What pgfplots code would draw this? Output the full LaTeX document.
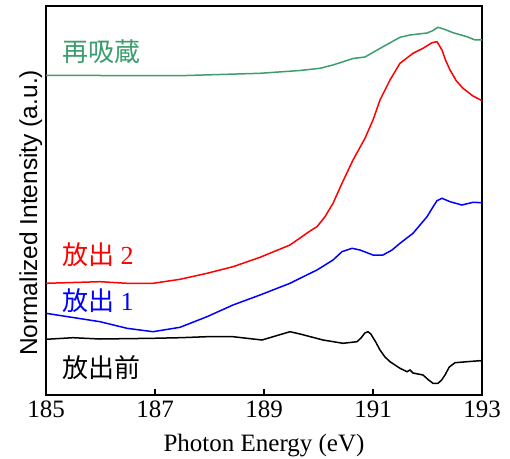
\documentclass[border=0pt]{standalone}
\usepackage{fontspec}
\setmainfont{Liberation Serif}
\newfontfamily\cjk{Noto Sans CJK JP}
\newfontfamily\arial{Liberation Sans}
\usepackage{pgfplots}
\pgfplotsset{compat=1.18}
\definecolor{mygreen}{RGB}{60,158,110}
\definecolor{myred}{RGB}{255,0,0}
\definecolor{myblue}{RGB}{0,0,255}
\begin{document}
\begin{tikzpicture}
\begin{axis}[
  scale only axis, width=436pt, height=389pt,
  xmin=185, xmax=193, ymin=0, ymax=389,
  xtick={185,187,189,191,193}, ytick=\empty,
  xtick pos=bottom, tick align=inside, major tick length=6pt,
  axis line style={line width=1.6pt, black},
  every tick/.style={line width=1.2pt, black},
  /pgf/number format/assume math mode=true,
  /pgf/number format/1000 sep={},
  xticklabel style={font=\fontsize{25}{25}\selectfont, anchor=base, yshift=-22pt},
  xlabel={Photon Energy (eV)},
  xlabel style={font=\fontsize{25}{25}\selectfont, at={(axis description cs:0.5,0)}, anchor=base, yshift=-56pt},
  ylabel={Normalized Intensity (a.u.)},
  ylabel style={font=\arial\fontsize{24.5}{24.5}\selectfont, at={(axis description cs:-0.0206,0.468)}, anchor=base},
  clip=false,
]
\addplot[mygreen, line width=1.5pt] coordinates {
(185.000,319.5) (185.991,319.5) (187.459,319.3) (188.927,321.7) (189.661,324.5)
(190.028,326.7) (190.266,330) (190.633,336.5) (190.853,338) (191.183,348.3)
(191.495,357.7) (191.679,360) (191.991,362) (192.083,364) (192.193,367.7)
(192.321,365.5) (192.468,362.3) (192.725,358.3) (192.872,355) (193.000,355)
};
\addplot[myred, line width=1.5pt] coordinates {
(185.000,111.7) (185.991,113.3) (186.486,111.7) (186.963,111.7) (187.459,115.7)
(187.954,121.7) (188.431,128.3) (188.927,137.7) (189.477,150) (189.661,157)
(189.844,164) (189.972,168.3) (190.119,178.3) (190.266,191.7) (190.431,211.7)
(190.633,235) (190.853,256.7) (191.000,275) (191.128,295) (191.312,315)
(191.495,331.7) (191.734,341.7) (191.917,346.7) (192.083,352.3) (192.174,353.3)
(192.266,345) (192.330,335) (192.413,325) (192.530,314) (192.651,306.7) (192.835,299) (193.000,294.3)
};
\addplot[myblue, line width=1.5pt] coordinates {
(185.000,81.7) (185.991,73.3) (186.486,66.7) (186.963,63.3) (187.459,67.7)
(187.954,78.3) (188.431,90) (188.927,100) (189.477,111.7) (189.661,116.7)
(189.972,125) (190.266,135) (190.431,143.3) (190.615,146.7) (190.761,145)
(191.000,140) (191.183,140) (191.349,145) (191.495,151.7) (191.734,161.7)
(191.991,178.3) (192.100,188) (192.174,194.3) (192.266,196.7) (192.413,193.3) (192.633,190)
(192.835,192.7) (193.000,192.3)
};
\addplot[black, line width=1.5pt] coordinates {
(185.000,55.7) (185.495,57.3) (185.991,56) (186.963,56.7) (187.459,57.3)
(187.954,58.3) (188.431,58.3) (188.963,55) (189.477,63.3) (189.661,61)
(190.083,55) (190.450,51.7) (190.706,53.3) (190.780,57) (190.850,62) (190.908,63.3)
(190.960,61) (191.050,53) (191.128,45) (191.220,38) (191.312,33.3) (191.495,26.7) (191.624,23.3)
(191.679,25) (191.734,22) (191.917,20) (192.020,15) (192.101,11.7) (192.193,11.7)
(192.260,15) (192.321,20) (192.400,28) (192.505,32.3) (192.725,33.3) (192.963,34.3) (193.000,34)
};
\node[anchor=west, inner sep=0, text=mygreen, font=\cjk\fontsize{26}{26}\selectfont] at (axis cs:185.29,343) {再吸蔵};
\node[anchor=west, inner sep=0, text=myred, font=\fontsize{26}{26}\selectfont] at (axis cs:185.29,140) {{\cjk 放出} 2};
\node[anchor=west, inner sep=0, text=myblue, font=\fontsize{26}{26}\selectfont] at (axis cs:185.29,94) {{\cjk 放出} 1};
\node[anchor=west, inner sep=0, text=black, font=\cjk\fontsize{26}{26}\selectfont] at (axis cs:185.29,27.5) {放出前};
\end{axis}
\pgfresetboundingbox
\path[use as bounding box] (-46pt,-63pt) rectangle (464pt,395pt);
\end{tikzpicture}
\end{document}
